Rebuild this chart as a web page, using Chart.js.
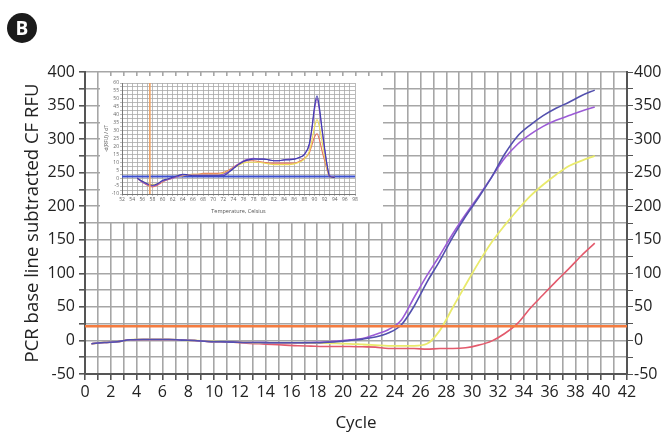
<!DOCTYPE html>
<html lang="en">
<head>
    <meta charset="UTF-8">
    <title>PCR amplification plot</title>
    <script src="https://cdn.jsdelivr.net/npm/chart.js"></script>
    <style>
        body { margin: 0; background: #fff; font-family: "Open Sans", sans-serif; }
        #wrap { position: relative; width: 664px; height: 433px; }
        #mainChart { position: absolute; left: 0; top: 0; }
        #insetChart { position: absolute; left: 100px; top: 76px; background: #fff; }
        .badge {
            position: absolute; left: 7px; top: 13px; width: 30px; height: 30px;
            border-radius: 50%; background: #1b1b1b; color: #fff;
            font: bold 19px "Open Sans", sans-serif; line-height: 30px; text-align: center;
        }
    </style>
</head>
<body>
<div id="wrap">
    <canvas id="mainChart" width="664" height="433"></canvas>
    <canvas id="insetChart" width="283" height="146"></canvas>
    <div class="badge">B</div>
</div>

<script>
// amplification curves (RFU per cycle)
const cycles = [1, 2, 3, 4, 5, 6, 7, 8, 9, 10, 11, 12, 13, 14, 15, 16, 17, 18, 19, 20,
                21, 22, 23, 24, 25, 26, 27, 28, 29, 30, 31, 32, 33, 34, 35, 36, 37, 38, 39, 40];
const navy   = [-5, -3, -2, 1, 1.5, 1.5, 1.5, 0.5, 0, -1.5, -2, -2.5, -3, -3, -3.5, -3.5, -3.5, -3.5, -3, -2,
                0, 2, 5, 11, 23, 51, 87, 119, 154, 185, 213, 243, 277, 304, 321, 335, 346, 355, 365, 373];
const purple = [-5, -3, -2, 1, 1.5, 1.5, 1.5, 0.5, 0, -1.5, -2, -2.5, -3, -3, -3.5, -3.5, -3.5, -3, -2.5, -1,
                1, 3, 9, 16, 30, 64, 97, 127, 159, 188, 215, 243, 271, 292, 307, 319, 328, 335, 342, 348];
const yellow = [-5, -3, -2, 1, 1.5, 1.5, 1.5, 0.5, 0, -1.5, -2, -2.5, -3, -3.5, -3.5, -4, -4, -4, -4, -4.5,
                -5, -6, -7, -8, -8, -8, -5, 15, 49, 83, 116, 146, 171, 194, 215, 232, 247, 260, 268, 275];
const red    = [-5, -3, -2, 1, 1.5, 1.5, 1.5, 0.5, 0, -1.5, -2, -2.5, -4, -5, -6, -7, -8, -8.5, -9, -9,
                -9, -9.5, -10, -12, -12, -12, -13, -12, -12, -11, -7, -1, 10, 25, 48, 68, 88, 107, 127, 145];
const threshold = 21;

// melt curve inset (-dRFU/dT)
const temps = [55, 56, 57, 58, 59, 60, 61, 62, 63, 64, 65, 66, 67, 68, 69, 70, 71, 72, 73, 74, 75, 76,
               77, 78, 79, 80, 81, 82, 83, 84, 85, 86, 87, 88, 89, 89.5, 90, 90.5, 91, 91.5, 92, 92.5, 93, 94];
const navyMelt   = [0, -2, -3.5, -4.5, -3.5, -1.5, -0.5, 0.5, 1.5, 2.5, 2, 1.5, 1.5, 1.5, 1.5, 1.5, 1.5, 1.5, 3.5, 6, 8.5, 10.5,
                    11.5, 12, 12, 12, 11.5, 11, 11, 11.5, 11.5, 12, 13, 15, 22, 32, 45, 52, 44, 31, 19, 8, 1, 0.5];
const purpleMelt = [0, -2.5, -4, -5, -4, -2, -1, 0, 1, 2, 2, 2, 2, 2, 2, 2, 2, 2.5, 4, 6.5, 9, 11,
                    12, 12.5, 12, 12, 11.5, 11, 11, 11.5, 12, 12, 13, 15, 21, 31, 43, 50, 42, 30, 18, 8, 1.5, 0.5];
const yellowMelt = [0, -2, -3.5, -4, -3.5, -2, -1, 0, 1, 1.5, 2, 2.5, 2.5, 2.5, 2.5, 2.5, 2.5, 3, 4.5, 6.5, 8, 9.5,
                    10, 10, 10, 9.5, 9, 8.5, 8.5, 8.5, 8.5, 9, 10, 12, 17, 24, 32, 37, 32, 23, 14, 6, 1, 0.5];
const redMelt    = [0, -2.5, -4.5, -5.5, -4.5, -2.5, -1, 0, 1, 1.5, 2, 2.5, 2.5, 3, 3, 3, 3, 3.5, 5, 7, 9, 10.5,
                    11, 11, 10.5, 10, 9.5, 9.5, 9.5, 9.5, 9.5, 9.5, 10.5, 12.5, 16, 21, 26, 28, 24, 17, 11, 5, 1, 0.5];
const meltBaseline = 1;
const meltMarker = 57.5;

// the instrument plots each cycle half a step to the left
const CYCLE_OFFSET = -0.5;

function pts(xs, ys, off) {
    return xs.map((x, i) => ({ x: x + (off || 0), y: ys[i] }));
}

function curve(label, data, color, width) {
    return {
        label: label, data: data, borderColor: color, borderWidth: width,
        pointRadius: 0, fill: false, cubicInterpolationMode: 'monotone'
    };
}

const AXIS = '#555';
const GRID = '#a6a6a6';
const tickFont = { family: 'Open Sans', size: 16 };

document.addEventListener('DOMContentLoaded', function () {
    new Chart(document.getElementById('mainChart'), {
        type: 'line',
        data: {
            datasets: [
                curve('Threshold', [{ x: 0, y: threshold }, { x: 42, y: threshold }], '#f47b3f', 2.5),
                curve('Sample 1', pts(cycles, navy, CYCLE_OFFSET), '#5350ae', 1.6),
                curve('Sample 2', pts(cycles, purple, CYCLE_OFFSET), '#9b5bd6', 1.6),
                curve('Sample 3', pts(cycles, yellow, CYCLE_OFFSET), '#e9ea6c', 1.8),
                curve('Sample 4', pts(cycles, red, CYCLE_OFFSET), '#e35a6c', 1.6)
            ]
        },
        options: {
            responsive: false,
            animation: false,
            layout: { padding: { top: 72, left: 0, right: 0, bottom: 0 } },
            plugins: { legend: { display: false }, tooltip: { enabled: false } },
            scales: {
                x: {
                    type: 'linear', min: 0, max: 42,
                    afterFit: s => { s.height = 59; },
                    border: { color: AXIS, width: 2 },
                    grid: { color: GRID, lineWidth: 1.6, tickLength: 6, tickColor: AXIS },
                    ticks: {
                        stepSize: 1, autoSkip: false, maxRotation: 0, padding: 3,
                        color: '#222', font: tickFont,
                        callback: v => (v % 2 === 0 ? v : '')
                    },
                    title: { display: true, text: 'Cycle', color: '#222',
                             font: { family: 'Open Sans', size: 17 }, padding: { top: 0, bottom: 0 } }
                },
                y: {
                    type: 'linear', min: -50, max: 400,
                    afterFit: s => { s.width = 85; },
                    border: { color: AXIS, width: 2 },
                    grid: { display: true, drawOnChartArea: true, color: GRID, lineWidth: 1.6, tickLength: 6, tickColor: AXIS },
                    ticks: {
                        stepSize: 25, autoSkip: false, padding: 4, color: '#222', font: tickFont,
                        callback: v => (v % 50 === 0 ? v : '')
                    },
                    title: { display: true, text: 'PCR base line subtracted CF RFU', color: '#222',
                             font: { family: 'Open Sans', size: 18.5 }, padding: { top: 22, bottom: 0 } }
                },
                y2: {
                    type: 'linear', position: 'right', min: -50, max: 400,
                    afterFit: s => { s.width = 37; },
                    border: { color: AXIS, width: 2 },
                    grid: { drawOnChartArea: false, tickLength: 6, color: AXIS },
                    ticks: {
                        stepSize: 25, autoSkip: false, padding: 1, color: '#222', font: tickFont,
                        callback: v => (v % 50 === 0 ? v : '')
                    }
                }
            }
        }
    });

    const smallFont = { family: 'Open Sans', size: 5 };
    new Chart(document.getElementById('insetChart'), {
        type: 'line',
        data: {
            datasets: [
                curve('Marker', [{ x: meltMarker, y: -10 }, { x: meltMarker, y: 60 }], '#f0a060', 1.6),
                curve('Sample 1', pts(temps, navyMelt), '#3e3cb0', 1.1),
                curve('Sample 2', pts(temps, purpleMelt), '#8e54cc', 1.1),
                curve('Sample 3', pts(temps, yellowMelt), '#eedd55', 1.1),
                curve('Sample 4', pts(temps, redMelt), '#e8745c', 1.1),
                curve('Baseline', [{ x: 52, y: meltBaseline }, { x: 98, y: meltBaseline }], '#3b4fd0', 2)
            ]
        },
        options: {
            responsive: false,
            animation: false,
            layout: { padding: { top: 7, left: 0, right: 28, bottom: 0 } },
            plugins: { legend: { display: false }, tooltip: { enabled: false } },
            scales: {
                x: {
                    type: 'linear', min: 52, max: 98,
                    afterFit: s => { s.height = 28; },
                    border: { color: '#777', width: 1 },
                    grid: { color: '#aaaaaa', lineWidth: 0.8, tickLength: 2 },
                    ticks: {
                        stepSize: 1, autoSkip: false, maxRotation: 0, padding: 1,
                        color: '#666', font: smallFont,
                        callback: v => (v % 2 === 0 ? v : '')
                    },
                    title: { display: true, text: 'Temperature, Celsius', color: '#555',
                             font: { family: 'Open Sans', size: 5.5 }, padding: { top: 0, bottom: 7 } }
                },
                y: {
                    min: -10, max: 60,
                    afterFit: s => { s.width = 22; },
                    border: { color: '#777', width: 1 },
                    grid: { color: '#aaaaaa', lineWidth: 0.8, tickLength: 2 },
                    ticks: {
                        stepSize: 2.5, autoSkip: false, padding: 1, color: '#666', font: smallFont,
                        callback: v => (v % 5 === 0 ? v : '')
                    },
                    title: { display: true, text: '-d(RFU) / dT', color: '#555',
                             font: { family: 'Open Sans', size: 5 }, padding: { top: 4, bottom: 0 } }
                }
            }
        }
    });
});
</script>
</body>
</html>
